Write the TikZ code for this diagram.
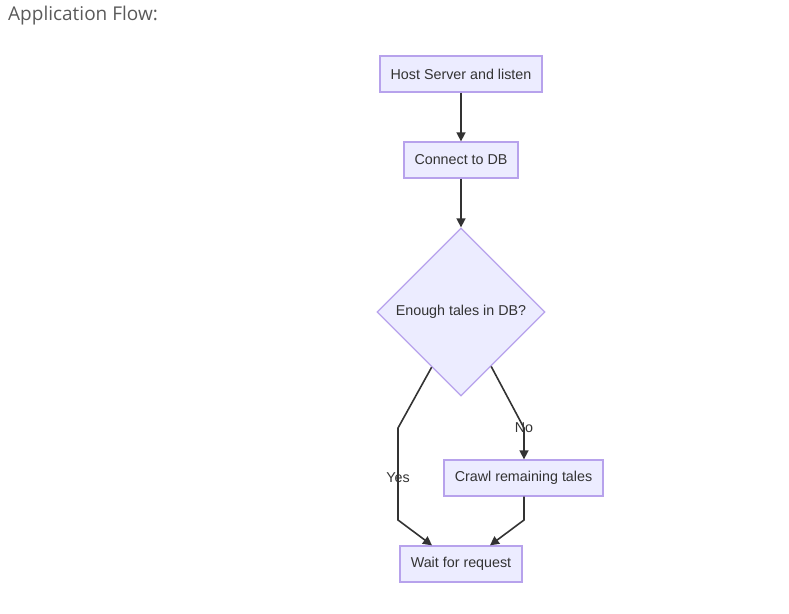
\documentclass[tikz,border=0pt]{standalone}
\usepackage{fontspec}
\setmainfont{Liberation Sans}
\newfontfamily\titlefont{Open Sans}
\usetikzlibrary{shapes.geometric,arrows.meta,calc}
\definecolor{boxfill}{HTML}{ECECFF}
\definecolor{boxline}{HTML}{B7A2EC}
\definecolor{ink}{HTML}{333333}
\definecolor{titlegray}{HTML}{5A5A5A}
\tikzset{
  procbox/.style={draw=boxline, fill=boxfill, line width=1.3pt, text=ink,
    font=\fontsize{14.3}{17}\selectfont, inner sep=0pt},
  decision/.style={diamond, draw=boxline, fill=boxfill, line width=1.3pt, text=ink,
    font=\fontsize{14.3}{17}\selectfont, inner sep=0pt, minimum size=168pt},
  flow/.style={draw=ink, line width=1.6pt, -{Triangle[length=9pt,width=9pt]}},
  edgelabel/.style={text=ink, font=\fontsize{14.3}{17}\selectfont, inner sep=1pt}
}
\begin{document}
\begin{tikzpicture}[x=1pt,y=-1pt]
\useasboundingbox (0,0) rectangle (789,613);
\node[anchor=west, text=titlegray, font=\titlefont\fontsize{19}{22}\selectfont, inner sep=0pt] (title) at (8,16) {Application Flow:};
\node[procbox, minimum width=162pt, minimum height=36pt] (host) at (461,74) {Host Server and listen};
\node[procbox, minimum width=114pt, minimum height=36pt] (conn) at (461,160) {Connect to DB};
\node[decision] (dec) at (461,312) {Enough tales in DB?};
\node[procbox, minimum width=159pt, minimum height=36pt] (crawl) at (523.5,478) {Crawl remaining tales};
\node[procbox, minimum width=122pt, minimum height=36pt] (wait) at (461,564) {Wait for request};
\coordinate (yesA) at (398,428);
\coordinate (yesB) at (398,520);
\coordinate (noA) at (524,428);
\coordinate (crB) at (524,520);
\coordinate (wl) at ($(wait.north)+(-29,0)$);
\coordinate (wr) at ($(wait.north)+(29,0)$);
\coordinate (crtop) at ($(crawl.north)+(0.5,0)$);
\coordinate (crbot) at ($(crawl.south)+(0.5,0)$);
\draw[flow] (host) -- (conn);
\draw[flow] (conn) -- (dec);
\draw[flow] (dec.-118.6) -- (yesA) -- (yesB) -- (wl);
\draw[flow] (dec.-61.4) -- (noA) -- (crtop);
\draw[flow] (crbot) -- (crB) -- (wr);
\node[edgelabel] (yes) at (398,478) {Yes};
\node[edgelabel] (no) at (524,428) {No};
\end{tikzpicture}
\end{document}
